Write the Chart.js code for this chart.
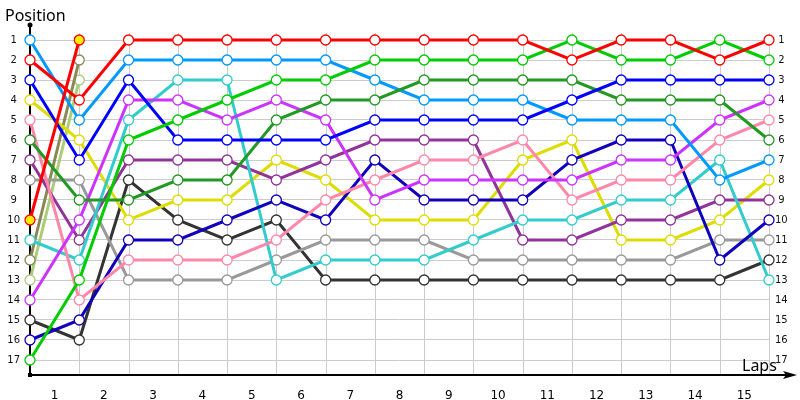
<!DOCTYPE html>
<html>
<head>
<meta charset="utf-8">
<script src="https://cdn.jsdelivr.net/npm/chart.js@4/dist/chart.umd.min.js"></script>
<style>
  html, body { margin: 0; padding: 0; background: #fff; }
  #wrap { width: 800px; height: 400px; }
</style>
</head>
<body>
<div id="wrap"><canvas id="lapChart"></canvas></div>
<script>
// Lap chart - positions per lap (lap 0 = grid)

const lapLabels = ['1', '2', '3', '4', '5', '6', '7', '8', '9', '10', '11', '12', '13', '14', '15'];
const positionTicks = [1, 2, 3, 4, 5, 6, 7, 8, 9, 10, 11, 12, 13, 14, 15, 16, 17];

// positions from lap 0 to lap 15
const lightBlue = [1, 5, 2, 2, 2, 2, 2, 3, 4, 4, 4, 5, 5, 5, 8, 7];
const red = [2, 4, 1, 1, 1, 1, 1, 1, 1, 1, 1, 2, 1, 1, 2, 1];
const blue = [3, 7, 3, 6, 6, 6, 6, 5, 5, 5, 5, 4, 3, 3, 3, 3];
const yellow = [4, 6, 10, 9, 9, 7, 8, 10, 10, 10, 7, 6, 11, 11, 10, 8];
const pink = [5, 14, 12, 12, 12, 11, 9, 8, 7, 7, 6, 9, 8, 8, 6, 5];
const darkGreen = [6, 9, 9, 8, 8, 5, 4, 4, 3, 3, 3, 3, 4, 4, 4, 6];
const purple = [7, 11, 7, 7, 7, 8, 7, 6, 6, 6, 11, 11, 10, 10, 9, 9];
const gray = [8, 8, 13, 13, 13, 12, 11, 11, 11, 12, 12, 12, 12, 12, 11, 11];
const redYellow = [10, 1];
const cyan = [11, 12, 5, 3, 3, 13, 12, 12, 12, 11, 10, 10, 9, 9, 7, 13];
const olive = [12, 2];
const lightOlive = [13, 3];
const magenta = [14, 10, 4, 4, 5, 4, 5, 9, 8, 8, 8, 8, 7, 7, 5, 4];
const darkGray = [15, 16, 8, 10, 11, 10, 13, 13, 13, 13, 13, 13, 13, 13, 13, 12];
const navy = [16, 15, 11, 11, 10, 9, 10, 7, 9, 9, 9, 7, 6, 6, 12, 10];
const green = [17, 13, 6, 5, 4, 3, 3, 2, 2, 2, 2, 1, 2, 2, 1, 2];

const drivers = [
    { data: redYellow, color: '#ff0000', fill: '#ffee00' },
    { data: red, color: '#ff0000' },
    { data: green, color: '#00cc00' },
    { data: blue, color: '#0000ff' },
    { data: darkGreen, color: '#229922' },
    { data: lightBlue, color: '#0099ff' },
    { data: magenta, color: '#cc33ff' },
    { data: pink, color: '#ff88aa' },
    { data: navy, color: '#1100bb' },
    { data: cyan, color: '#33cccc' },
    { data: purple, color: '#913399' },
    { data: yellow, color: '#dddd00' },
    { data: gray, color: '#999999' },
    { data: darkGray, color: '#333333' },
    { data: olive, color: '#888855' },
    { data: lightOlive, color: '#aacc77' }
];

function toPoints(arr) {
    return arr.map((v, i) => ({ x: i, y: v }));
}

const datasets = drivers.map(d => ({
    data: toPoints(d.data),
    borderColor: d.color,
    backgroundColor: d.fill || '#ffffff',
    pointBackgroundColor: d.fill || '#ffffff',
    pointBorderColor: d.color,
    pointBorderWidth: 1.3,
    pointRadius: 5,
    borderWidth: 3,
    tension: 0,
    clip: false
}));

// grid lines on lap boundaries + axes, arrow and titles
const lapDecor = {
    id: 'lapDecor',
    beforeDatasetsDraw(chart) {
        const ctx = chart.ctx;
        const area = chart.chartArea;
        const xs = chart.scales.x;
        ctx.save();
        ctx.strokeStyle = '#cccccc';
        ctx.lineWidth = 1;
        for (let i = 1; i <= lapLabels.length; i++) {
            const px = Math.round(xs.getPixelForValue(i)) + 0.5;
            ctx.beginPath();
            ctx.moveTo(px, area.top);
            ctx.lineTo(px, area.bottom);
            ctx.stroke();
        }
        // axes under the marks
        const x0 = area.left;
        const yb = area.bottom;
        ctx.strokeStyle = '#000';
        ctx.fillStyle = '#000';
        ctx.lineWidth = 2;
        ctx.beginPath();
        ctx.moveTo(x0, 25);
        ctx.lineTo(x0, yb);
        ctx.stroke();
        ctx.beginPath();
        ctx.arc(x0, 25, 2.5, 0, Math.PI * 2);
        ctx.fill();
        ctx.fillRect(x0 - 2, yb - 2, 4, 4);
        ctx.beginPath();
        ctx.moveTo(x0, yb);
        ctx.lineTo(786, yb);
        ctx.stroke();
        ctx.beginPath();
        ctx.moveTo(797, yb);
        ctx.lineTo(783, yb - 4);
        ctx.lineTo(786, yb);
        ctx.lineTo(783, yb + 4);
        ctx.closePath();
        ctx.fill();
        ctx.restore();
    },
    afterDraw(chart) {
        const ctx = chart.ctx;
        ctx.save();
        ctx.fillStyle = '#000';
        ctx.font = '16px "Noto Sans"';
        ctx.textBaseline = 'alphabetic';
        ctx.textAlign = 'left';
        ctx.fillText('Position', 5, 21);
        ctx.fillText('Laps', 742, 371);
        ctx.restore();
    }
};

const ctx = document.getElementById('lapChart').getContext('2d');
new Chart(ctx, {
    type: 'line',
    data: { datasets: datasets },
    options: {
        responsive: true,
        maintainAspectRatio: false,
        animation: false,
        layout: { padding: { top: 33, left: 0, right: 0, bottom: 0 } },
        plugins: {
            legend: { display: false },
            tooltip: { enabled: false }
        },
        scales: {
            x: {
                type: 'linear',
                min: 0,
                max: 15,
                afterBuildTicks: axis => {
                    axis.ticks = lapLabels.map((l, i) => ({ value: i + 0.5 }));
                },
                afterFit: axis => { axis.height = 25; },
                ticks: {
                    color: '#000',
                    font: { family: 'DejaVu Sans', size: 12 },
                    padding: 6,
                    maxRotation: 0,
                    autoSkip: false,
                    callback: (v, i) => lapLabels[i]
                },
                grid: { display: false },
                border: { display: false }
            },
            y: {
                type: 'linear',
                position: 'left',
                reverse: true,
                min: 0.65,
                max: 17.75,
                afterBuildTicks: axis => {
                    axis.ticks = positionTicks.map(v => ({ value: v }));
                },
                afterFit: axis => { axis.width = 30; },
                ticks: {
                    color: '#111',
                    font: { family: 'DejaVu Sans', size: 10 },
                    crossAlign: 'center',
                    padding: 10,
                    autoSkip: false
                },
                grid: { color: '#cccccc', lineWidth: 1, drawTicks: false },
                border: { display: false }
            },
            y2: {
                type: 'linear',
                position: 'right',
                reverse: true,
                min: 0.65,
                max: 17.75,
                afterBuildTicks: axis => {
                    axis.ticks = positionTicks.map(v => ({ value: v }));
                },
                afterFit: axis => { axis.width = 31; },
                ticks: {
                    color: '#111',
                    font: { family: 'DejaVu Sans', size: 10 },
                    crossAlign: 'center',
                    padding: 6,
                    autoSkip: false
                },
                grid: { display: false, drawTicks: false },
                border: { display: false }
            }
        }
    },
    plugins: [lapDecor]
});
</script>
</body>
</html>
